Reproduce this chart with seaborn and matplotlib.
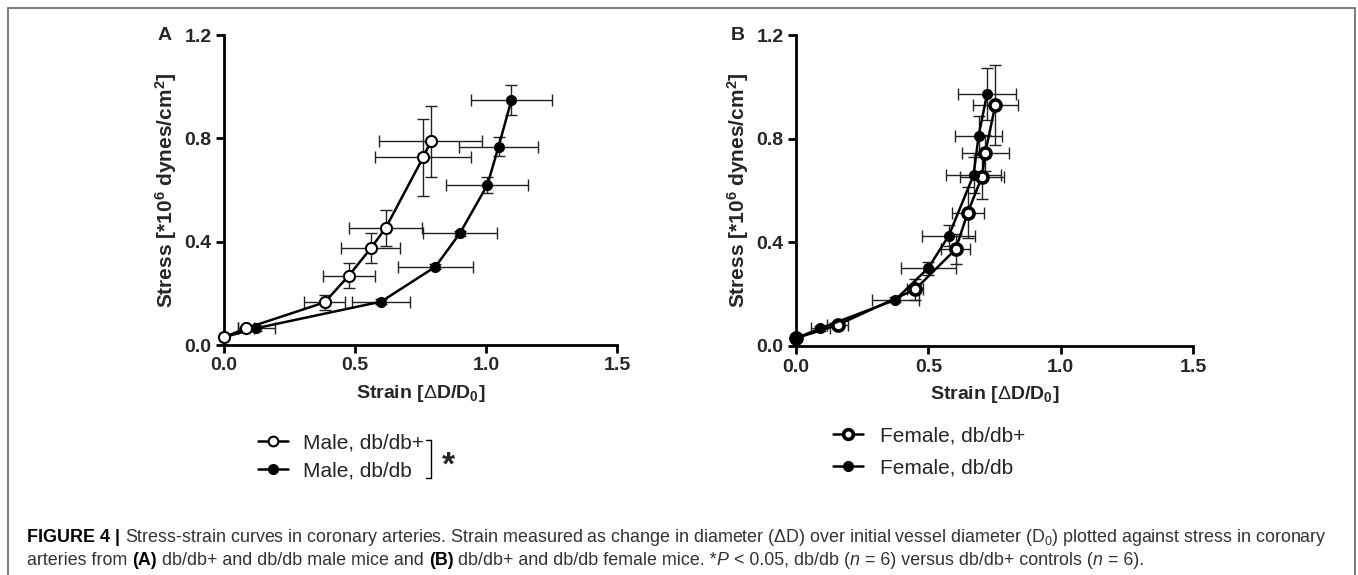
import numpy as np
import pandas as pd
import matplotlib
matplotlib.use("Agg")
import matplotlib.pyplot as plt
from matplotlib.lines import Line2D
from matplotlib.patches import Rectangle
import seaborn as sns

# ---- data (strain, stress, SEM) ----
A_open_x = [0.0, 0.085, 0.384, 0.476, 0.56, 0.617, 0.76, 0.789]
A_open_y = [0.03, 0.065, 0.165, 0.268, 0.374, 0.453, 0.726, 0.788]
A_open_xerr = [0.0, 0.03, 0.078, 0.10, 0.112, 0.139, 0.184, 0.197]
A_open_yerr = [0.0, 0.01, 0.03, 0.048, 0.058, 0.07, 0.148, 0.137]

A_fill_x = [0.0, 0.123, 0.60, 0.807, 0.90, 1.005, 1.048, 1.097]
A_fill_y = [0.03, 0.065, 0.168, 0.303, 0.432, 0.619, 0.768, 0.948]
A_fill_xerr = [0.0, 0.07, 0.11, 0.143, 0.141, 0.157, 0.15, 0.153]
A_fill_yerr = [0.0, 0.01, 0.01, 0.01, 0.01, 0.03, 0.037, 0.057]

B_open_x = [0.0, 0.157, 0.451, 0.603, 0.649, 0.703, 0.715, 0.753]
B_open_y = [0.03, 0.081, 0.219, 0.373, 0.515, 0.654, 0.744, 0.930]
B_open_xerr = [0.0, 0.04, 0.03, 0.054, 0.06, 0.083, 0.088, 0.086]
B_open_yerr = [0.0, 0.01, 0.04, 0.058, 0.1, 0.087, 0.07, 0.154]

B_fill_x = [0.0, 0.092, 0.375, 0.499, 0.577, 0.671, 0.69, 0.722]
B_fill_y = [0.03, 0.068, 0.178, 0.30, 0.425, 0.66, 0.812, 0.973]
B_fill_xerr = [0.0, 0.035, 0.088, 0.104, 0.10, 0.105, 0.09, 0.11]
B_fill_yerr = [0.0, 0.01, 0.01, 0.025, 0.04, 0.07, 0.075, 0.1]

A_labels = ["Male, db/db+", "Male, db/db"]
B_labels = ["Female, db/db+", "Female, db/db"]
X_TICKS = [0.0, 0.5, 1.0, 1.5]
Y_TICKS = [0.0, 0.4, 0.8, 1.2]

sns.set_style("ticks")
plt.rcParams['font.family'] = ['Liberation Sans', 'DejaVu Sans']
plt.rcParams['mathtext.fontset'] = 'custom'
plt.rcParams['mathtext.rm'] = 'Liberation Sans'
plt.rcParams['mathtext.bf'] = 'Liberation Sans:bold'
plt.rcParams['mathtext.it'] = 'Liberation Sans:italic'

W, H = 1358, 575
fig = plt.figure(figsize=(W / 100, H / 100), dpi=100)
axA = fig.add_axes([224 / W, 1 - 345 / H, (617 - 224) / W, (345 - 35) / H])
axB = fig.add_axes([796 / W, 1 - 346 / H, (1193 - 796) / W, (346 - 35) / H])


def series(ax, x, y, xerr, yerr, open_, mew, ms, z):
    ax.errorbar(x, y, xerr=xerr, yerr=yerr, fmt='none', ecolor='#222222',
                elinewidth=1.0, capsize=4, capthick=1.0, zorder=1, clip_on=False)
    df = pd.DataFrame({'strain': x, 'stress': y})
    sns.lineplot(data=df, x='strain', y='stress', ax=ax, sort=False, estimator=None,
                 color='black', lw=1.8, marker='o', ms=ms,
                 markerfacecolor='white' if open_ else 'black',
                 markeredgecolor='black', markeredgewidth=mew, zorder=z, clip_on=False)


series(axA, A_fill_x, A_fill_y, A_fill_xerr, A_fill_yerr, False, 1.0, 7, 2)
series(axA, A_open_x, A_open_y, A_open_xerr, A_open_yerr, True, 1.5, 8, 3)
series(axB, B_open_x, B_open_y, B_open_xerr, B_open_yerr, True, 2.6, 8, 2)
series(axB, B_fill_x, B_fill_y, B_fill_xerr, B_fill_yerr, False, 1.0, 7, 3)

for ax in (axA, axB):
    ax.set_xlim(0, 1.5)
    ax.set_ylim(0, 1.2)
    ax.set_xticks(X_TICKS)
    ax.set_yticks(Y_TICKS)
    ax.set_xticklabels([f"{t:.1f}" for t in X_TICKS], fontweight='bold', fontsize=14)
    ax.set_yticklabels([f"{t:.1f}" for t in Y_TICKS], fontweight='bold', fontsize=14)
    ax.tick_params(length=6, width=2, color='black', pad=3)
    for s in ('left', 'bottom'):
        ax.spines[s].set_linewidth(2)
        ax.spines[s].set_color('black')
    sns.despine(ax=ax)
    ax.set_xlabel(r"Strain [$\Delta$D/D$_\mathbf{0}$]", fontweight='bold', fontsize=14, labelpad=6)
    ax.set_ylabel(r"Stress [*10$^\mathbf{6}$ dynes/cm$^\mathbf{2}$]", fontweight='bold',
                  fontsize=15, labelpad=4)

fig.text(165 / W, 1 - 36 / H, "A", fontsize=14, fontweight='bold', ha='center', va='center')
fig.text(738 / W, 1 - 36 / H, "B", fontsize=14, fontweight='bold', ha='center', va='center')


def handles(open_mew):
    return [Line2D([], [], color='black', lw=1.8, marker='o', ms=7, markerfacecolor='white',
                   markeredgecolor='black', markeredgewidth=open_mew),
            Line2D([], [], color='black', lw=1.8, marker='o', ms=7, markerfacecolor='black')]


fig.legend(handles(1.5), A_labels, loc='center left', bbox_to_anchor=(258 / W, 1 - 457 / H),
           frameon=False, fontsize=15, handlelength=1.45, handletextpad=0.7, labelspacing=0.45,
           borderpad=0, borderaxespad=0)
fig.legend(handles(2.6), B_labels, loc='center left', bbox_to_anchor=(833 / W, 1 - 452 / H),
           frameon=False, fontsize=15, handlelength=1.45, handletextpad=0.8, labelspacing=0.6,
           borderpad=0, borderaxespad=0)

# significance bracket
bx, by0, by1 = 431, 440, 478
fig.add_artist(Line2D([bx / W, bx / W], [1 - by0 / H, 1 - by1 / H], color='black', lw=1))
fig.add_artist(Line2D([(bx - 5) / W, bx / W], [1 - by0 / H, 1 - by0 / H], color='black', lw=1))
fig.add_artist(Line2D([(bx - 5) / W, bx / W], [1 - by1 / H, 1 - by1 / H], color='black', lw=1))
fig.text(448 / W, 1 - 466 / H, "*", fontsize=24, fontweight='bold', ha='center', va='center')

# caption frame
fig.add_artist(Rectangle((8 / W, -0.02), (1355 - 8) / W, 1 - 8 / H + 0.02, transform=fig.transFigure,
                         fill=False, edgecolor='#666666', lw=1.2))

CAP = ['Liberation Sans Narrow', 'Liberation Sans']
renderer = fig.canvas.get_renderer()


def rich(x, y, pieces, size=12.9):
    for txt, st in pieces:
        t = fig.text(x, y, txt, fontsize=size, family=CAP, va='baseline',
                     fontweight='bold' if 'b' in st else 'normal',
                     fontstyle='italic' if 'i' in st else 'normal',
                     color='black' if 'k' in st else '#333333')
        x += t.get_window_extent(renderer).width / W


rich(27 / W, 1 - 542 / H, [
    ("FIGURE 4 | ", "bk"),
    ("Stress-strain curves in coronary arteries. Strain measured as change in diameter (\u0394D) over "
     "initial vessel diameter (D$_0$) plotted against stress in coronary", ""),
])
rich(27 / W, 1 - 565 / H, [
    ("arteries from ", ""), ("(A)", "bk"), (" db/db+ and db/db male mice and ", ""), ("(B)", "bk"),
    (" db/db+ and db/db female mice. *", ""), ("P", "i"), (" < 0.05, db/db (", ""), ("n", "i"),
    (" = 6) versus db/db+ controls (", ""), ("n", "i"), (" = 6).", ""),
])

fig.savefig("out.png", dpi=100)
